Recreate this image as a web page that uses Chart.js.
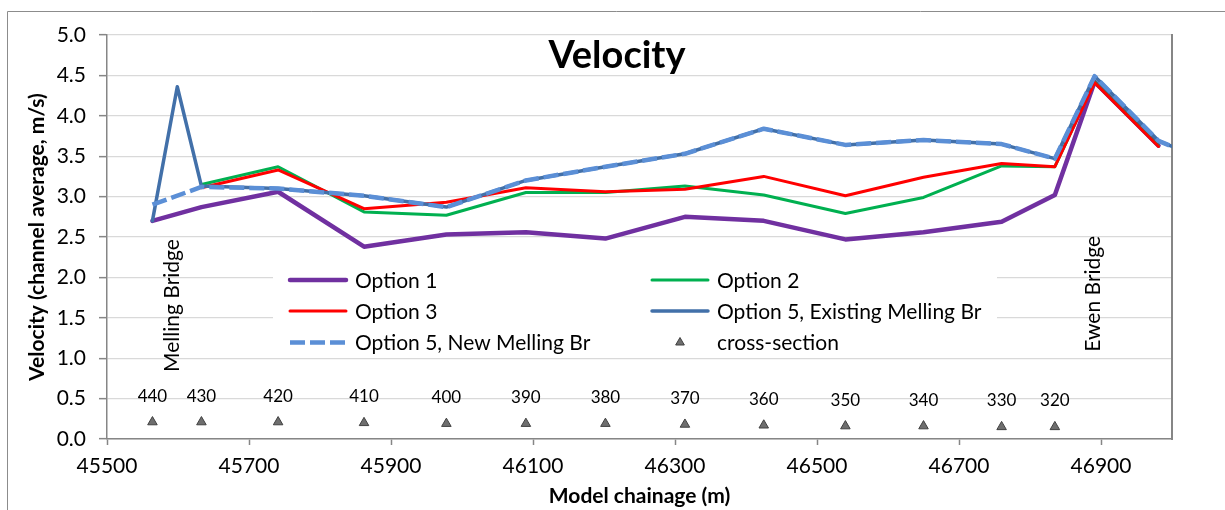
<!DOCTYPE html>
<html>
<head>
<meta charset="utf-8">
<title>Velocity</title>
<script src="https://cdn.jsdelivr.net/npm/chart.js@4.4.1/dist/chart.umd.min.js"></script>
<style>
  html, body { margin: 0; padding: 0; background: #ffffff; }
  canvas { display: block; }
</style>
</head>
<body>
<canvas id="chart" width="1225" height="510"></canvas>
<script>
// Model cross-sections (chainage in m, marker level, section number)
const sectionChainage = [45564, 45633, 45741, 45862, 45978, 46090, 46202, 46314, 46425, 46540, 46650, 46760, 46835];
const sectionLevel    = [0.21, 0.21, 0.21, 0.20, 0.19, 0.19, 0.19, 0.18, 0.17, 0.16, 0.16, 0.15, 0.15];
const sectionNames    = ['440', '430', '420', '410', '400', '390', '380', '370', '360', '350', '340', '330', '320'];

// Option 1
const opt1Chainage = [45564, 45633, 45741, 45862, 45978, 46090, 46202, 46314, 46425, 46540, 46650, 46760, 46835, 46891, 46981];
const opt1Velocity = [2.70, 2.87, 3.06, 2.38, 2.53, 2.56, 2.48, 2.75, 2.70, 2.47, 2.56, 2.69, 3.02, 4.42, 3.63];

// Option 2
const opt2Chainage = [45633, 45741, 45862, 45978, 46090, 46202, 46314, 46425, 46540, 46650, 46760, 46835, 46891, 46981];
const opt2Velocity = [3.15, 3.37, 2.81, 2.77, 3.05, 3.05, 3.13, 3.02, 2.79, 2.99, 3.38, 3.37, 4.42, 3.63];

// Option 3
const opt3Chainage = [45633, 45741, 45862, 45978, 46090, 46202, 46314, 46425, 46540, 46650, 46760, 46835, 46891, 46981];
const opt3Velocity = [3.11, 3.33, 2.85, 2.93, 3.11, 3.06, 3.09, 3.25, 3.01, 3.24, 3.41, 3.37, 4.41, 3.62];

// Option 5 with the existing Melling Bridge
const opt5ExChainage = [45564, 45599, 45633, 45741, 45862, 45978, 46090, 46202, 46314, 46425, 46540, 46650, 46760, 46835, 46891, 46981, 47000];
const opt5ExVelocity = [2.70, 4.36, 3.13, 3.10, 3.01, 2.87, 3.20, 3.37, 3.53, 3.84, 3.64, 3.70, 3.65, 3.47, 4.49, 3.69, 3.62];

// Option 5 with a new Melling Bridge
const opt5NewChainage = [45564, 45633, 45741, 45862, 45978, 46090, 46202, 46314, 46425, 46540, 46650, 46760, 46835, 46891, 46981, 47000];
const opt5NewVelocity = [2.90, 3.12, 3.10, 3.01, 2.87, 3.20, 3.37, 3.53, 3.84, 3.64, 3.70, 3.65, 3.47, 4.49, 3.69, 3.62];

// Axis ticks
const xTickValues = [45500, 45700, 45900, 46100, 46300, 46500, 46700, 46900];
const yTickValues = [0, 0.5, 1, 1.5, 2, 2.5, 3, 3.5, 4, 4.5, 5];

// Bridge annotations: chainage and the velocity level where the text starts
const bridgeNames    = ['Melling Bridge', 'Ewen Bridge'];
const bridgeChainage = [45590, 46887];
const bridgeBase     = [0.83, 1.08];

const FONT = 'Lato, "Open Sans", sans-serif';
const AXIS_GREY = '#868686';

function toPoints(xs, ys) {
  return xs.map((x, i) => ({ x: x, y: ys[i] }));
}

// Text, frame and the two-column key drawn on top of the plot
const decorations = {
  id: 'decorations',
  afterDraw(chart) {
    const ctx = chart.ctx;
    const xs = chart.scales.x;
    const ys = chart.scales.y;
    ctx.save();

    // outer frame (left and top edges)
    ctx.strokeStyle = '#8c8c8c';
    ctx.lineWidth = 1;
    ctx.beginPath();
    ctx.moveTo(7.5, 510);
    ctx.lineTo(7.5, 11.5);
    ctx.lineTo(1225, 11.5);
    ctx.stroke();

    // title inside the plot
    ctx.fillStyle = '#000000';
    ctx.font = 'bold 38px ' + FONT;
    ctx.textAlign = 'center';
    ctx.textBaseline = 'middle';
    ctx.fillText('Velocity', 617, 56);

    // cross-section numbers above the markers
    ctx.font = '17px ' + FONT;
    const meta = chart.getDatasetMeta(5);
    meta.data.forEach((pt, i) => {
      ctx.fillText(sectionNames[i], pt.x, pt.y - 26);
    });

    // bridge names, reading upwards
    ctx.font = '21px ' + FONT;
    ctx.textAlign = 'left';
    bridgeNames.forEach((name, i) => {
      const px = xs.getPixelForValue(bridgeChainage[i]);
      const py = ys.getPixelForValue(bridgeBase[i]);
      ctx.save();
      ctx.translate(px, py);
      ctx.rotate(-Math.PI / 2);
      ctx.fillText(name, 0, 1);
      ctx.restore();
    });

    // key
    ctx.fillStyle = '#ffffff';
    ctx.fillRect(273, 262, 724, 94);
    const cols = [288, 650];
    const rows = [280, 311, 342.5];
    chart.data.datasets.forEach((ds, i) => {
      const cx = cols[i % 2];
      const cy = rows[Math.floor(i / 2)];
      ctx.save();
      if (ds.showLine === false) {
        ctx.fillStyle = ds.pointBackgroundColor;
        ctx.strokeStyle = ds.pointBorderColor;
        ctx.lineWidth = 1;
        const r = 5;
        const mx = cx + 30;
        ctx.beginPath();
        ctx.moveTo(mx, cy - r);
        ctx.lineTo(mx + r * 0.866, cy + r * 0.5);
        ctx.lineTo(mx - r * 0.866, cy + r * 0.5);
        ctx.closePath();
        ctx.fill();
        ctx.stroke();
      } else {
        ctx.strokeStyle = ds.borderColor;
        ctx.lineWidth = ds.borderWidth;
        ctx.lineCap = ds.borderDash ? 'butt' : 'round';
        ctx.setLineDash(ds.borderDash || []);
        ctx.beginPath();
        ctx.moveTo(cx + 2, cy);
        ctx.lineTo(cx + 58, cy);
        ctx.stroke();
      }
      ctx.restore();
      ctx.fillStyle = '#000000';
      ctx.font = '21px ' + FONT;
      ctx.textAlign = 'left';
      ctx.textBaseline = 'middle';
      ctx.fillText(ds.label, cx + 67, cy + 1);
    });

    ctx.restore();
  }
};

const lineBase = {
  type: 'line',
  pointRadius: 0,
  pointHoverRadius: 0,
  tension: 0,
  fill: false,
  borderJoinStyle: 'round',
  borderCapStyle: 'round'
};

new Chart(document.getElementById('chart'), {
  type: 'line',
  data: {
    datasets: [
      Object.assign({}, lineBase, {
        label: 'Option 1',
        data: toPoints(opt1Chainage, opt1Velocity),
        borderColor: '#7030a0',
        borderWidth: 4.5,
        order: 6
      }),
      Object.assign({}, lineBase, {
        label: 'Option 2',
        data: toPoints(opt2Chainage, opt2Velocity),
        borderColor: '#00b050',
        borderWidth: 3,
        order: 5
      }),
      Object.assign({}, lineBase, {
        label: 'Option 3',
        data: toPoints(opt3Chainage, opt3Velocity),
        borderColor: '#ff0000',
        borderWidth: 3,
        order: 4
      }),
      Object.assign({}, lineBase, {
        label: 'Option 5, Existing Melling Br',
        data: toPoints(opt5ExChainage, opt5ExVelocity),
        borderColor: '#4270a9',
        borderWidth: 3.5,
        order: 3
      }),
      Object.assign({}, lineBase, {
        label: 'Option 5, New Melling Br',
        data: toPoints(opt5NewChainage, opt5NewVelocity),
        borderColor: '#5b8fd6',
        borderWidth: 4.5,
        borderDash: [15, 5],
        borderCapStyle: 'butt',
        order: 2
      }),
      {
        type: 'line',
        label: 'cross-section',
        data: toPoints(sectionChainage, sectionLevel),
        showLine: false,
        pointStyle: 'triangle',
        pointRadius: 5.5,
        pointHoverRadius: 5.5,
        pointBackgroundColor: '#6e6e6e',
        pointBorderColor: '#404040',
        pointBorderWidth: 1,
        borderColor: '#404040',
        backgroundColor: '#6e6e6e',
        order: 1
      }
    ]
  },
  options: {
    responsive: false,
    devicePixelRatio: 1,
    animation: false,
    events: [],
    layout: { padding: { left: 0, top: 35, right: 53, bottom: 0 } },
    plugins: {
      legend: { display: false },
      tooltip: { enabled: false },
      title: { display: false }
    },
    scales: {
      x: {
        type: 'linear',
        position: 'bottom',
        min: 45500,
        max: 47000,
        afterBuildTicks(scale) {
          scale.ticks = xTickValues.map(v => ({ value: v }));
        },
        afterFit(scale) { scale.height = 71; },
        ticks: {
          autoSkip: false,
          maxRotation: 0,
          minRotation: 0,
          padding: 9,
          color: '#000000',
          font: { family: FONT, size: 21 },
          callback: v => String(v)
        },
        grid: {
          drawOnChartArea: false,
          drawTicks: true,
          tickLength: 6,
          tickColor: AXIS_GREY,
          tickWidth: 1.5
        },
        border: { display: true, color: AXIS_GREY, width: 1.5 },
        title: {
          display: true,
          text: 'Model chainage (m)',
          color: '#000000',
          font: { family: FONT, size: 21, weight: 'bold' },
          padding: { top: 0, bottom: 1 }
        }
      },
      y: {
        type: 'linear',
        position: 'left',
        min: 0,
        max: 5,
        afterBuildTicks(scale) {
          scale.ticks = yTickValues.map(v => ({ value: v }));
        },
        afterFit(scale) { scale.width = 107; },
        ticks: {
          padding: 13,
          color: '#000000',
          font: { family: FONT, size: 21 },
          callback: v => Number(v).toFixed(1)
        },
        grid: {
          color: '#d9d9d9',
          lineWidth: 1.3,
          drawTicks: true,
          tickLength: 8,
          tickColor: AXIS_GREY,
          tickWidth: 1.5
        },
        border: { display: true, color: AXIS_GREY, width: 1.5 },
        title: {
          display: true,
          text: 'Velocity (channel average, m/s)',
          color: '#000000',
          font: { family: FONT, size: 21, weight: 'bold' },
          padding: { top: 25, bottom: 0 }
        }
      },
      y2: {
        type: 'linear',
        position: 'right',
        min: 0,
        max: 5,
        afterFit(scale) { scale.width = 0; },
        ticks: { display: false },
        grid: { display: false, drawTicks: false },
        border: { display: true, color: AXIS_GREY, width: 2 }
      }
    }
  },
  plugins: [decorations]
});
</script>
</body>
</html>
